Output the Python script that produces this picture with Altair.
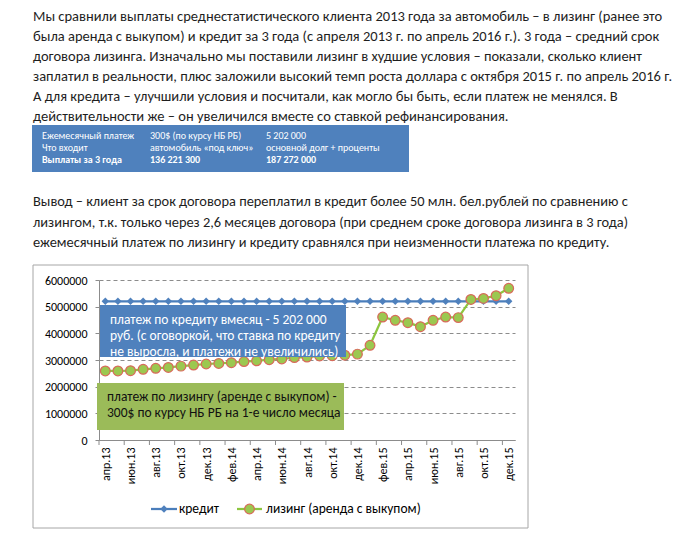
import altair as alt
import pandas as pd

FONT = "Carlito, 'Liberation Sans', Arial, sans-serif"

months = ["апр.13", "май.13", "июн.13", "июл.13", "авг.13", "сен.13", "окт.13", "ноя.13", "дек.13",
          "янв.14", "фев.14", "мар.14", "апр.14", "май.14", "июн.14", "июл.14", "авг.14", "сен.14",
          "окт.14", "ноя.14", "дек.14", "янв.15", "фев.15", "мар.15", "апр.15", "май.15", "июн.15",
          "июл.15", "авг.15", "сен.15", "окт.15", "ноя.15", "дек.15"]
credit = [5202000] * 33
leasing = [2590000, 2590000, 2600000, 2650000, 2690000, 2720000, 2770000, 2810000, 2850000, 2870000,
           2900000, 2940000, 2970000, 3010000, 3040000, 3090000, 3110000, 3150000, 3160000, 3180000,
           3220000, 3550000, 4610000, 4490000, 4400000, 4250000, 4490000, 4610000, 4590000, 5270000,
           5310000, 5410000, 5690000]
series_names = ["кредит", "лизинг (аренда с выкупом)"]
y_ticks = [0, 1000000, 2000000, 3000000, 4000000, 5000000, 6000000]

para1 = [
    "Мы сравнили выплаты среднестатистического клиента 2013 года за автомобиль  – в лизинг (ранее это",
    "была аренда с выкупом) и кредит за 3 года (с апреля 2013 г. по апрель 2016 г.). 3 года – средний срок",
    "договора лизинга.  Изначально мы поставили лизинг в худшие условия – показали, сколько клиент",
    "заплатил в реальности, плюс заложили высокий темп роста доллара с октября  2015 г. по апрель 2016 г.",
    "А для кредита  – улучшили условия  и посчитали, как могло бы быть, если платеж не менялся.  В",
    "действительности же – он увеличился вместе со ставкой рефинансирования.",
]
para2 = [
    "Вывод – клиент за срок договора переплатил в кредит более 50 млн. бел.рублей по сравнению с",
    "лизингом, т.к. только через 2,6 месяцев договора (при среднем сроке договора лизинга в 3 года)",
    "ежемесячный платеж по лизингу и кредиту сравнялся при неизменности платежа по кредиту.",
]
tbl_col1 = ["Ежемесячный платеж", "Что входит", "Выплаты за 3 года"]
tbl_col2 = ["300$ (по курсу НБ РБ)", "автомобиль «под ключ»", "136 221 300"]
tbl_col3 = ["5 202 000", "основной долг + проценты", "187 272 000"]
note_credit = ["платеж по кредиту  вмесяц - 5 202 000",
               "руб. (с оговоркой, что ставка по кредиту",
               "не выросла, и платежи не увеличились)"]
note_leasing = ["платеж по лизингу (аренде с выкупом) -",
                "300$ по курсу НБ РБ на 1-е число месяца"]

BLUE = "#4F81BD"
LINE_BLUE = "#4A7EBB"
GREEN_BOX = "#9BBB59"
LINE_GREEN = "#8DC63F"
TEXT = "#1e1e1e"

W, H = 416, 160
PAD_L, PAD_T = 99, 280

df = pd.DataFrame({"i": list(range(len(months))), "month": months,
                   "credit": credit, "leasing": leasing})
one = pd.DataFrame({"a": [0]})

label_arr = "[" + ",".join("'" + m + "'" for m in months) + "]"
xscale = alt.Scale(domain=[-0.5, len(months) - 0.5], nice=False, zero=False)
yscale = alt.Scale(domain=[0, 6000000], nice=False)

X_AXIS = alt.Axis(values=list(range(0, len(months), 2)), labelExpr=label_arr + "[datum.value]",
                  labelAngle=270, ticks=False, grid=False, domainColor="#8c8c8c",
                  labelOverlap=False, labelBound=False, labelFlush=False,
                  labelFontSize=12, labelFont=FONT, labelColor="#000000", labelPadding=7)
Y_AXIS = alt.Axis(values=y_ticks, format="d", grid=True, gridDash=[4, 3], gridColor="#8c8c8c",
                  domainColor="#8c8c8c", tickColor="#8c8c8c", tickSize=4, labelPadding=8,
                  labelOverlap=False, labelFlush=False,
                  labelFontSize=12, labelFont=FONT, labelColor="#000000")


def xq(field):
    return alt.X(field, scale=xscale, axis=X_AXIS, title=None)


def yq(field):
    return alt.Y(field, scale=yscale, axis=Y_AXIS, title=None)


base = alt.Chart(df)

xticks = base.transform_filter("datum.i % 2 == 0").transform_calculate(b="datum.i - 0.5").mark_rule(
    color="#8c8c8c", strokeWidth=1).encode(
    x=xq("b:Q"), y=alt.value(H), y2=alt.value(H + 5))

credit_line = base.mark_line(color=LINE_BLUE, strokeWidth=2.25).encode(x=xq("i:Q"), y=yq("credit:Q"))
credit_pts = base.mark_point(shape="diamond", filled=True, color=BLUE, size=55, opacity=1).encode(
    x=xq("i:Q"), y=yq("credit:Q"))
leasing_line = base.mark_line(color=LINE_GREEN, strokeWidth=2.25).encode(x=xq("i:Q"), y=yq("leasing:Q"))
leasing_pts = base.mark_point(shape="circle", filled=True, fill="#9BC850", stroke="#D86A5A",
                              strokeWidth=1.2, size=95, opacity=1).encode(
    x=xq("i:Q"), y=yq("leasing:Q"))


def box(x1, x2, y1, y2, fill, stroke=None, fill_opacity=1.0):
    kw = dict(fill=fill, fillOpacity=fill_opacity)
    if stroke:
        kw.update(stroke=stroke, strokeWidth=1)
    return alt.Chart(one).mark_rect(**kw).encode(
        x=alt.value(x1), x2=alt.value(x2), y=alt.value(y1), y2=alt.value(y2))


def text_block(lines, x0, y0, dy, size, color, bold_row=None):
    d = pd.DataFrame({"k": list(range(len(lines))), "t": lines})
    kw = dict(align="left", baseline="middle", fontSize=size, font=FONT, color=color)
    ch = alt.Chart(d).transform_calculate(py=f"{y0} + {dy} * datum.k")
    enc = dict(x=alt.value(x0), y=alt.Y("py:Q", scale=None), text="t:N")
    if bold_row is None:
        return ch.mark_text(**kw).encode(**enc)
    normal = ch.transform_filter(f"datum.k != {bold_row}").mark_text(**kw).encode(**enc)
    bold = ch.transform_filter(f"datum.k == {bold_row}").mark_text(fontWeight="bold", **kw).encode(**enc)
    return alt.layer(normal, bold)


chart_border = box(-66, 429, -15, 248, "white", stroke="#a6a6a6", fill_opacity=0)

p1 = text_block(para1, 33 - PAD_L, 17 - PAD_T, 20, 14.5, TEXT)
p2 = text_block(para2, 33 - PAD_L, 202 - PAD_T, 20.5, 14.4, TEXT)

tbl_box = box(32 - PAD_L, 409 - PAD_L, 125 - PAD_T, 172 - PAD_T, BLUE)
t1 = text_block(tbl_col1, 42 - PAD_L, 136 - PAD_T, 12, 10, "white", bold_row=2)
t2 = text_block(tbl_col2, 150 - PAD_L, 136 - PAD_T, 12, 10, "white", bold_row=2)
t3 = text_block(tbl_col3, 266 - PAD_L, 136 - PAD_T, 12, 10, "white", bold_row=2)

nb_box = box(1, 247, 25, 77, BLUE)
nb_text = text_block(note_credit, 11, 40, 16, 13.5, "white")
ng_box = box(-2, 245, 103, 150, GREEN_BOX)
ng_text = text_block(note_leasing, 8, 117, 16, 13.5, "#111111")

# legend
LY = 229
leg_blue_line = alt.Chart(one).mark_rule(color=LINE_BLUE, strokeWidth=2.25).encode(
    x=alt.value(52), x2=alt.value(78), y=alt.value(LY))
leg_blue_pt = alt.Chart(one).mark_point(shape="diamond", filled=True, color=BLUE, size=55, opacity=1).encode(
    x=alt.value(65), y=alt.value(LY))
leg_green_line = alt.Chart(one).mark_rule(color=LINE_GREEN, strokeWidth=2.25).encode(
    x=alt.value(138), x2=alt.value(163), y=alt.value(LY))
leg_green_pt = alt.Chart(one).mark_point(shape="circle", filled=True, fill="#9BC850", stroke="#D86A5A",
                                         strokeWidth=1.2, size=95, opacity=1).encode(
    x=alt.value(150.5), y=alt.value(LY))
leg_t1 = alt.Chart(pd.DataFrame({"t": [series_names[0]]})).mark_text(
    align="left", baseline="middle", fontSize=13.5, font=FONT, color="#000000").encode(
    x=alt.value(80), y=alt.value(LY), text="t:N")
leg_t2 = alt.Chart(pd.DataFrame({"t": [series_names[1]]})).mark_text(
    align="left", baseline="middle", fontSize=13.5, font=FONT, color="#000000").encode(
    x=alt.value(167), y=alt.value(LY), text="t:N")

chart = alt.layer(
    credit_line, xticks, chart_border,
    credit_pts, leasing_line, leasing_pts,
    nb_box, nb_text, ng_box, ng_text,
    p1, p2, tbl_box, t1, t2, t3,
    leg_blue_line, leg_blue_pt, leg_green_line, leg_green_pt, leg_t1, leg_t2,
).properties(
    width=W, height=H,
    autosize=alt.AutoSizeParams(type="none"),
    padding={"left": PAD_L, "top": PAD_T, "right": 690 - PAD_L - W, "bottom": 535 - PAD_T - H},
    background="white",
).configure_view(stroke=None).configure_axis(labelOverlap=False)

chart.save("out.html", embed_options={"renderer": "svg", "actions": False})
